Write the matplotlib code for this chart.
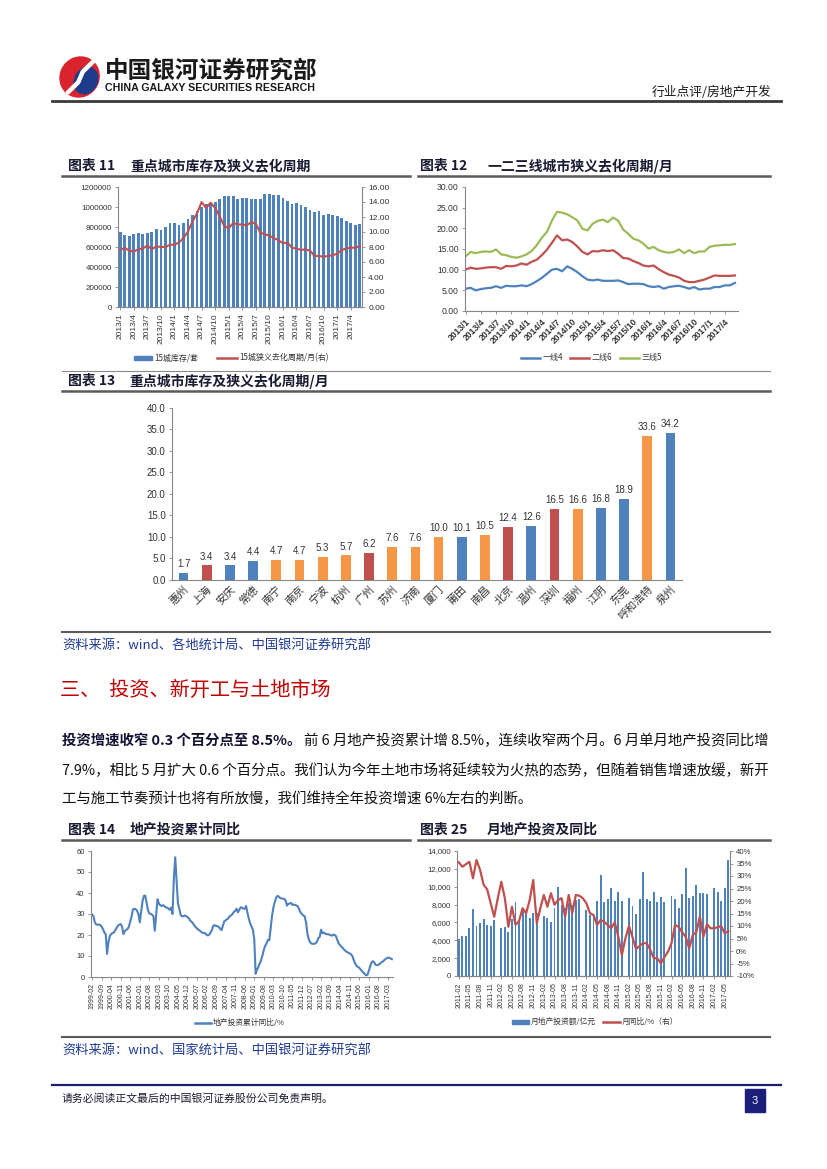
import numpy as np
import matplotlib
matplotlib.use("Agg")
import matplotlib.pyplot as plt
from matplotlib.patches import Rectangle, Ellipse
from matplotlib.lines import Line2D

plt.rcParams['font.family'] = ['Liberation Sans', 'Noto Sans CJK SC', 'DejaVu Sans']
plt.rcParams['axes.unicode_minus'] = False

BLUE = '#4F81BD'
RED = '#C0504D'
GREEN = '#9BBB59'
ORANGE = '#F79646'
AXC = '#868686'
TXT = '#333333'
CJK = ['Noto Sans CJK SC', 'DejaVu Sans']

# ---------------- data ----------------
# 图表11: 15城库存(套) and 狭义去化周期(月), 2013/1 - 2017/6
stock15 = [746000, 723000, 713000, 730000, 743000, 730000, 736000, 753000, 776000, 773000,
           802000, 842000, 842000, 822000, 838000, 878000, 920000, 963000, 996000, 1029000,
           1042000, 1055000, 1082000, 1108000, 1108000, 1108000, 1085000, 1095000, 1088000, 1082000,
           1085000, 1085000, 1131000, 1128000, 1121000, 1121000, 1095000, 1065000, 1029000, 1045000,
           1022000, 999000, 970000, 950000, 957000, 924000, 927000, 924000, 911000, 888000,
           865000, 842000, 822000, 832000]
cycle15 = [7.6, 7.9, 7.5, 7.4, 7.7, 7.8, 8.2, 7.7, 8.1, 8.0,
           8.0, 8.3, 8.3, 8.6, 9.2, 10.1, 11.4, 12.5, 14.0, 13.2,
           13.9, 13.2, 12.1, 10.8, 10.5, 11.2, 11.0, 11.0, 10.9, 11.3,
           11.1, 9.9, 9.7, 9.5, 9.2, 8.9, 8.5, 8.6, 7.9, 7.8,
           7.6, 7.7, 7.5, 6.8, 6.8, 6.7, 6.8, 6.9, 7.1, 7.6,
           7.8, 7.9, 7.9, 8.1]

# 图表12: 一二三线城市狭义去化周期(月), 2013/1 - 2017/6
tier1 = [5.4, 5.6, 5.0, 5.3, 5.5, 5.6, 6.0, 5.6, 6.1, 6.0,
         6.0, 6.2, 6.0, 6.5, 7.2, 8.0, 9.0, 10.0, 10.2, 9.6,
         10.8, 10.2, 9.4, 8.4, 7.6, 7.4, 7.6, 7.3, 7.3, 7.3,
         7.4, 7.0, 6.5, 6.6, 6.6, 6.5, 6.0, 5.8, 6.0, 5.4,
         5.8, 6.0, 6.1, 5.8, 5.4, 5.8, 5.2, 5.4, 5.4, 5.8,
         5.8, 6.2, 6.2, 6.8]
tier2 = [10.0, 10.5, 10.2, 10.3, 10.5, 10.6, 10.6, 10.2, 10.9, 10.8,
         11.0, 11.5, 11.2, 11.9, 12.4, 13.5, 14.8, 16.5, 18.3, 17.1,
         17.3, 16.7, 15.6, 14.3, 13.7, 14.5, 14.4, 14.7, 14.5, 14.7,
         13.9, 12.8, 12.7, 12.1, 11.6, 11.0, 10.8, 11.0, 10.1, 9.4,
         8.8, 8.5, 8.1, 7.3, 7.0, 7.0, 7.3, 7.6, 8.1, 8.6,
         8.5, 8.5, 8.5, 8.6]
tier3 = [13.2, 14.3, 14.0, 14.3, 14.4, 14.3, 14.9, 13.7, 13.5, 13.1,
         12.9, 13.2, 13.7, 14.5, 15.9, 17.7, 19.1, 21.9, 24.0, 23.8,
         23.4, 22.7, 21.9, 19.9, 19.5, 21.1, 21.8, 22.1, 21.5, 22.6,
         21.9, 19.7, 18.7, 17.5, 17.1, 16.3, 15.1, 15.5, 14.7, 14.3,
         14.1, 14.3, 14.9, 14.0, 14.7, 14.0, 14.4, 14.4, 15.5, 15.8,
         15.9, 16.0, 16.0, 16.2]

# 图表13
cities = ['惠州', '上海', '安庆', '常德', '南宁', '南京', '宁波', '杭州', '广州', '苏州', '济南',
          '厦门', '莆田', '南昌', '北京', '温州', '深圳', '福州', '江阴', '东莞', '呼和浩特', '泉州']
city_cycle = [1.7, 3.4, 3.4, 4.4, 4.7, 4.7, 5.3, 5.7, 6.2, 7.6, 7.6,
              10.0, 10.1, 10.5, 12.4, 12.6, 16.5, 16.6, 16.8, 18.9, 33.6, 34.2]
city_tier = ['b', 'r', 'b', 'b', 'o', 'o', 'o', 'o', 'r', 'o', 'o',
             'o', 'b', 'o', 'r', 'b', 'r', 'o', 'b', 'b', 'o', 'b']

# 图表14: 地产投资累计同比(%), 1999-02 - 2017-06 monthly
inv_cum = [29.7, 29.0, 26.0, 25.0, 24.9, 24.9, 24.8, 24.0, 22.8, 21.2, 20.4,
           11.0, 16.5, 19.5, 20.5, 20.9, 21.2, 22.3, 23.5, 24.5, 24.9, 25.2, 24.0,
           20.5, 21.8, 22.5, 22.8, 24.0, 26.5, 28.9, 32.2, 32.5, 32.3, 31.5, 30.0,
           26.0, 31.0, 36.0, 38.6, 38.8, 35.5, 31.8, 30.3, 30.0, 29.7, 29.0, 22.0,
           29.5, 37.0, 35.0, 34.2, 33.8, 34.2, 33.8, 33.2, 33.0, 32.6, 32.0, 33.0,
           30.0, 47.0, 57.0, 46.0, 35.0, 32.5, 29.5, 28.9, 28.9, 29.3, 29.0, 28.5,
           28.0, 26.8, 26.3, 25.6, 24.6, 23.8, 23.1, 22.5, 22.1, 21.6, 21.0, 21.0,
           20.8, 20.1, 19.8, 20.2, 21.2, 22.5, 24.5, 24.6, 24.3, 24.2, 23.8, 23.0,
           22.3, 24.5, 26.5, 27.0, 27.5, 28.0, 28.9, 29.3, 30.0, 31.0, 31.5, 32.5,
           30.8, 32.0, 33.2, 33.0, 32.5, 32.5, 33.8, 30.5, 27.8, 25.5, 24.0, 22.5,
           18.0, 1.5, 3.5, 4.8, 6.4, 8.0, 10.2, 12.9, 14.8, 16.0, 17.7, 17.5,
           23.0, 29.0, 33.0, 35.6, 37.6, 38.6, 38.3, 37.6, 37.4, 37.3, 37.1, 36.5,
           34.0, 34.8, 35.0, 35.3, 34.3, 34.5, 34.3, 34.0, 33.6, 32.1, 30.7, 29.9,
           29.3, 28.9, 26.0, 20.5, 18.0, 16.5, 15.9, 15.8, 15.8, 16.1, 16.7, 18.5,
           19.0, 22.5, 20.8, 21.2, 20.7, 20.4, 20.4, 20.2, 19.9, 19.7, 20.1, 20.1,
           19.4, 17.5, 16.0, 15.1, 14.5, 13.7, 13.0, 12.4, 11.9, 11.6, 11.2, 10.8,
           10.0, 8.0, 6.5, 5.3, 4.8, 4.4, 3.6, 2.8, 2.1, 1.5, 0.8, 1.0,
           2.8, 5.0, 6.8, 7.5, 7.0, 5.8, 5.6, 5.8, 6.2, 6.9, 7.2, 7.8,
           8.4, 8.9, 9.2, 9.2, 8.8, 8.5]

# 图表25: 月地产投资额(亿元) and 月同比(%), 2011-02 - 2017-06 (January not published)
nan = np.nan
inv_month = [4150, 4520, 4480, 5340, 7470, 5600, 5900, 6380, 5710, 5560, 6270, nan,
             5410, 5450, 4890, 6400, 8330, 6300, 7580, 7020, 6530, 7020, 7020, nan,
             6720, 6530, 6010, 7580, 10000, 7950, 7580, 8140, 7950, 8510, 8620, nan,
             7390, 6830, 6830, 8400, 11310, 8250, 8590, 9820, 8440, 9370, 8400, nan,
             8770, 7840, 6940, 8590, 11610, 8590, 8440, 9450, 8250, 8890, 8250, nan,
             9000, 8620, 7650, 9150, 12060, 8770, 9000, 10190, 9330, 9330, 9150, nan,
             9890, 9450, 8440, 9820, 12990]
inv_yoy = [35.5, 33.7, 34.7, 35.7, 29.1, 36.4, 32.5, 26.5, 24.7, 19.1, 13.7, 21.1,
           27.7, 21.1, 9.7, 17.7, 10.5, 12.0, 17.1, 15.1, 20.4, 28.4, 11.1, 17.1,
           22.4, 17.7, 23.1, 18.5, 20.4, 21.1, 13.7, 22.4, 15.1, 22.4, 22.1, 21.1,
           19.1, 15.1, 14.4, 10.4, 12.4, 11.7, 10.4, 9.1, 11.5, 5.7, -1.6, 5.1,
           10.0, 5.5, 0.8, 2.0, 3.1, 3.1, 0.5, -2.9, -2.9, -4.9, -2.5, -0.3,
           3.1, 10.4, 9.7, 7.5, 5.7, 1.1, 6.4, 7.5, 13.7, 5.7, 10.7, 9.1,
           9.1, 9.5, 10.0, 7.1, 7.9]


def month_labels(y, m, n, sep):
    out = []
    for i in range(n):
        yy = y + (m - 1 + i) // 12
        mm = (m - 1 + i) % 12 + 1
        out.append(f'{yy}-{mm:02d}' if sep == '-' else f'{yy}/{mm}')
    return out


m13 = month_labels(2013, 1, len(stock15), '/')
m99 = month_labels(1999, 2, len(inv_cum), '-')
m11 = month_labels(2011, 2, len(inv_month), '-')

# ---------------- page ----------------
W, H = 827, 1169
fig = plt.figure(figsize=(8.27, 11.69), dpi=100)


def ax_at(x0, y0, x1, y1):
    return fig.add_axes([x0 / W, 1 - y1 / H, (x1 - x0) / W, (y1 - y0) / H])


def txt(x, y, s, **kw):
    kw.setdefault('va', 'center')
    return fig.text(x / W, 1 - y / H, s, **kw)


def hline(x0, x1, y, lw=1.0, color='#595959'):
    fig.add_artist(Line2D([x0 / W, x1 / W], [1 - y / H, 1 - y / H], lw=lw, color=color))


def leg_line(x0, x1, y, color, lw=1.8):
    fig.add_artist(Line2D([x0 / W, x1 / W], [1 - y / H, 1 - y / H], lw=lw, color=color))


def leg_box(x0, x1, y, color, h=5):
    fig.add_artist(Rectangle((x0 / W, 1 - (y + h / 2) / H), (x1 - x0) / W, h / H,
                             color=color, transform=fig.transFigure))


def style(ax, left=True, right=False, size=5.8):
    for s in ('top', 'right', 'left', 'bottom'):
        ax.spines[s].set_visible(False)
    ax.spines['bottom'].set_visible(True)
    ax.spines['bottom'].set_color(AXC)
    if left:
        ax.spines['left'].set_visible(True)
        ax.spines['left'].set_color(AXC)
    if right:
        ax.spines['right'].set_visible(True)
        ax.spines['right'].set_color(AXC)
    ax.tick_params(labelsize=size, colors=TXT, length=2.5, width=0.6, pad=2)
    ax.tick_params(axis='both', color=AXC)
    ax.set_facecolor('none')


def chart_title(x, y, num, name, name_x, underline):
    txt(x, y, f'图表 {num}', fontsize=10, fontweight='bold', color='#1a1a33', family=CJK)
    txt(name_x, y, name, fontsize=10, fontweight='bold', color='#1a1a33', family=CJK)
    hline(underline[0], underline[1], y + 10, lw=1.8, color='#5a5a5a')


# header
lax = ax_at(58, 55, 103, 99)
lax.set_xlim(0, 1)
lax.set_ylim(0, 1)
lax.axis('off')
lax.add_patch(Ellipse((0.48, 0.5), 0.86, 0.92, angle=-25, color='#D9232D'))
lax.add_patch(Ellipse((0.62, 0.42), 0.5, 0.62, angle=-25, color='#1E3C8C'))
lax.plot([0.78, 0.55, 0.5, 0.45, 0.22], [0.85, 0.62, 0.5, 0.38, 0.15], color='white', lw=3.2,
         solid_capstyle='round')
txt(105, 71, '中国银河证券研究部', fontsize=17, fontweight='bold', color='#1a1a1a', family=CJK)
txt(105, 88, 'CHINA GALAXY SECURITIES RESEARCH', fontsize=7.7, fontweight='bold', color='#1a1a1a')
txt(771, 92, '行业点评/房地产开发', fontsize=9.2, color='#1a1a1a', ha='right', family=CJK)
hline(52, 781, 101, lw=2.0, color='#3a3a3a')

# ---------------- 图表11 ----------------
chart_title(68, 166, '11', '重点城市库存及狭义去化周期', 130, (62, 410))
ax = ax_at(118, 187, 362, 307)
x = np.arange(len(stock15))
ax.bar(x, stock15, width=0.62, color=BLUE, zorder=2)
ax.set_xlim(-0.5, len(x) - 0.5)
ax.set_ylim(0, 1200000)
yt = list(range(0, 1200001, 200000))
ax.set_yticks(yt)
ax.set_yticklabels([str(v) for v in yt])
ax.set_xticks(x[::3])
ax.set_xticklabels(m13[::3], rotation=90)
style(ax, size=5.8)
ax.tick_params(axis='x', labelsize=6)
ax2 = ax.twinx()
ax2.plot(x, cycle15, color=RED, lw=1.5, zorder=3)
ax2.set_ylim(0, 16)
rt = np.arange(0, 16.01, 2)
ax2.set_yticks(rt)
ax2.set_yticklabels([f'{v:.2f}' for v in rt])
style(ax2, left=False, right=True, size=6)
leg_box(134, 152, 358, BLUE, h=4)
txt(154, 358, '15城库存/套', fontsize=5.8, color=TXT, family=CJK)
leg_line(217, 237, 358, RED)
txt(239, 358, '15城狭义去化周期/月(右)', fontsize=5.8, color=TXT, family=CJK)

# ---------------- 图表12 ----------------
chart_title(420, 166, '12', '一二三线城市狭义去化周期/月', 487, (418, 770))
ax = ax_at(465, 187, 738, 311)
x = np.arange(len(tier1))
ax.plot(x, tier1, color=BLUE, lw=1.6)
ax.plot(x, tier2, color=RED, lw=1.6)
ax.plot(x, tier3, color=GREEN, lw=1.6)
ax.set_xlim(-0.1, len(x) - 0.4)
ax.set_ylim(0, 30)
yt = np.arange(0, 30.01, 5)
ax.set_yticks(yt)
ax.set_yticklabels([f'{v:.2f}' for v in yt])
ax.set_xticks(x[::3])
ax.set_xticklabels(m13[::3], rotation=45, ha='right', rotation_mode='anchor', fontweight='bold')
style(ax, size=6.2)
ax.tick_params(axis='x', labelsize=6.2)
leg_line(521, 540, 358, BLUE)
txt(543, 358, '一线4', fontsize=5.8, color=TXT, family=CJK)
leg_line(570, 589, 358, RED)
txt(592, 358, '二线6', fontsize=5.8, color=TXT, family=CJK)
leg_line(620, 639, 358, GREEN)
txt(642, 358, '三线5', fontsize=5.8, color=TXT, family=CJK)

# ---------------- 图表13 ----------------
hline(62, 770, 371, lw=0.8, color='#8a8a8a')
chart_title(68, 381, '13', '重点城市库存及狭义去化周期/月', 129, (62, 770))
ax = ax_at(172, 408, 682, 580)
x = np.arange(len(cities))
cmap = {'b': BLUE, 'r': RED, 'o': ORANGE}
ax.bar(x, city_cycle, width=0.42, color=[cmap[t] for t in city_tier], zorder=2)
for xi, v in zip(x, city_cycle):
    ax.text(xi, v + 0.9, f'{v:.1f}', ha='center', va='bottom', fontsize=7, color=TXT)
ax.set_xlim(-0.5, len(x) - 0.5)
ax.set_ylim(0, 40)
yt = np.arange(0, 40.01, 5)
ax.set_yticks(yt)
ax.set_yticklabels([f'{v:.1f}' for v in yt])
ax.set_xticks(x)
ax.set_xticklabels(cities, rotation=45, ha='right', rotation_mode='anchor', family=CJK)
style(ax, size=7)
ax.tick_params(axis='x', length=0, labelsize=7.8, pad=3)
hline(62, 770, 632, lw=1.5, color='#5a5a5a')
txt(62, 645, '资料来源：wind、各地统计局、中国银河证券研究部', fontsize=9.5, color='#1F3A93',
    style='italic', family=CJK)

# ---------------- text section ----------------
txt(60, 690, '三、  投资、新开工与土地市场', fontsize=14.5, color='#C00000', family=CJK)
bold = txt(62, 741, '投资增速收窄 0.3 个百分点至 8.5%。', fontsize=10.4, fontweight='bold',
           color='#111133', family=CJK)
fig.canvas.draw()
bb = bold.get_window_extent(renderer=fig.canvas.get_renderer())
bx = bb.x1 / fig.dpi * 100 + 3
txt(bx, 741, '前 6 月地产投资累计增 8.5%，连续收窄两个月。6 月单月地产投资同比增',
    fontsize=10.4, color='#111111', family=CJK)
txt(62, 771, '7.9%，相比 5 月扩大 0.6 个百分点。我们认为今年土地市场将延续较为火热的态势，但随着销售增速放缓，新开',
    fontsize=10.4, color='#111111', family=CJK)
txt(62, 799, '工与施工节奏预计也将有所放慢，我们维持全年投资增速 6%左右的判断。',
    fontsize=10.4, color='#111111', family=CJK)

# ---------------- 图表14 ----------------
chart_title(68, 830, '14', '地产投资累计同比', 130, (62, 410))
ax = ax_at(91, 851, 393, 977)
x = np.arange(len(inv_cum))
ax.plot(x, inv_cum, color=BLUE, lw=1.5)
ax.set_xlim(-0.8, len(x) - 0.2)
ax.set_ylim(0, 60)
ax.set_yticks(range(0, 61, 10))
ax.set_xticks(x[::7])
ax.set_xticklabels(m99[::7], rotation=90)
style(ax, size=5.5)
ax.tick_params(axis='x', labelsize=5.0)
leg_line(195, 211, 1023, BLUE)
txt(213, 1023, '地产投资累计同比/%', fontsize=5.6, color=TXT, family=CJK)

# ---------------- 图表25 ----------------
chart_title(420, 830, '25', '月地产投资及同比', 487, (418, 770))
ax = ax_at(457, 851, 730, 976)
x = np.arange(len(inv_month))
ax.bar(x, inv_month, width=0.55, color=BLUE, zorder=2)
ax.set_xlim(-0.5, len(x) - 0.5)
ax.set_ylim(0, 14000)
yt = list(range(0, 14001, 2000))
ax.set_yticks(yt)
ax.set_yticklabels([f'{v:,}' for v in yt])
ax.set_xticks(x[::3])
ax.set_xticklabels(m11[::3], rotation=90)
style(ax, size=5.6)
ax.tick_params(axis='x', labelsize=5.0)
ax2 = ax.twinx()
ax2.plot(x, inv_yoy, color=RED, lw=1.6, zorder=3)
ax2.set_ylim(-10, 40)
rt = list(range(-10, 41, 5))
ax2.set_yticks(rt)
ax2.set_yticklabels([f'{v}%' for v in rt])
style(ax2, left=False, right=True, size=5.6)
leg_box(512, 529, 1022, BLUE, h=4)
txt(531, 1022, '月地产投资额/亿元', fontsize=5.6, color=TXT, family=CJK)
leg_line(603, 620, 1022, RED)
txt(622, 1022, '月同比/%（右）', fontsize=5.6, color=TXT, family=CJK)

hline(62, 770, 1037, lw=1.5, color='#5a5a5a')
txt(62, 1050, '资料来源：wind、国家统计局、中国银河证券研究部', fontsize=9.5, color='#1F3A93',
    style='italic', family=CJK)

# footer
hline(52, 781, 1085, lw=1.6, color='#1B1F6B')
txt(62, 1098, '请务必阅读正文最后的中国银河证券股份公司免责声明。', fontsize=7.8, color='#1a1a33', family=CJK)
fig.add_artist(Rectangle((745 / W, 1 - 1112 / H), 20 / W, 23 / H, color='#1B1F7A',
                         transform=fig.transFigure))
txt(755, 1100.5, '3', fontsize=8, color='white', ha='center')

fig.savefig('out.png', dpi=100)
